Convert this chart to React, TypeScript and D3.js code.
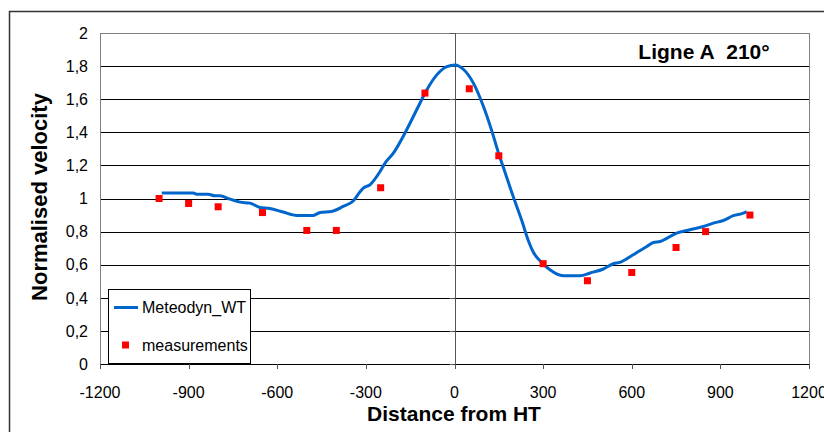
import React from "react";
import * as d3 from "d3";

// Meteodyn_WT model profile (distance, normalised velocity)
const modelX = [-991, -884, -873, -834, -811, -794, -760, -726, -692, -659, -625, -580, -534, -478, -455, -416, -377, -343, -320, -309, -286, -252, -235, -207, -162, -128, -94, -60, -26, 2, 30, 64, 98, 126, 148, 165, 199, 228, 250, 267, 295, 323, 368, 425, 459, 504, 538, 560, 605, 651, 673, 696, 752, 797, 842, 876, 910, 944, 978, 989];
const modelY = [1.033, 1.033, 1.026, 1.026, 1.016, 1.016, 0.996, 0.978, 0.972, 0.946, 0.94, 0.918, 0.898, 0.898, 0.916, 0.922, 0.952, 0.985, 1.04, 1.063, 1.083, 1.163, 1.214, 1.274, 1.415, 1.536, 1.656, 1.747, 1.797, 1.807, 1.781, 1.697, 1.556, 1.41, 1.28, 1.19, 1.01, 0.865, 0.745, 0.675, 0.614, 0.569, 0.533, 0.533, 0.55, 0.574, 0.606, 0.614, 0.66, 0.71, 0.734, 0.74, 0.791, 0.811, 0.831, 0.851, 0.867, 0.896, 0.912, 0.921];

// measurements
const measX = [-1000, -900, -800, -650, -500, -400, -250, -100, 50, 150, 300, 450, 600, 750, 850, 1000];
const measY = [1.0, 0.97, 0.95, 0.915, 0.807, 0.807, 1.065, 1.637, 1.663, 1.258, 0.606, 0.503, 0.553, 0.704, 0.8, 0.9];

const xTicks = [-1200, -900, -600, -300, 0, 300, 600, 900, 1200];
const yTicks = [0, 0.2, 0.4, 0.6, 0.8, 1, 1.2, 1.4, 1.6, 1.8, 2];

const W = 824, H = 432;
const plot = { left: 100, right: 809, top: 33, bottom: 364 };
const font = "'Liberation Sans', Arial, sans-serif";

const App = () => {
  const x = d3.scaleLinear().domain([-1200, 1200]).range([plot.left, plot.right]);
  const y = d3.scaleLinear().domain([0, 2]).range([plot.bottom, plot.top]);
  const fmt = (v: number) => String(Math.round(v * 10) / 10).replace(".", ",");

  const line = d3.line<number>()
    .x((d, i) => x(modelX[i]))
    .y((d) => y(d))
    .curve(d3.curveMonotoneX);

  return (
    <svg width={W} height={H} style={{ position: "fixed", left: 0, top: 0 }} fontFamily={font}>
      <rect x={0} y={0} width={W} height={H} fill="#fff" />
      <rect x={9.5} y={11.5} width={W + 20} height={H + 20} fill="none" stroke="#333" strokeWidth={1.5} />

      {/* grid lines */}
      {yTicks.slice(1, -1).map((t) => (
        <line key={t} x1={plot.left} x2={plot.right} y1={Math.round(y(t)) + 0.5} y2={Math.round(y(t)) + 0.5} stroke="#000" strokeWidth={1} />
      ))}
      <rect x={plot.left + 0.5} y={plot.top + 0.5} width={plot.right - plot.left} height={plot.bottom - plot.top} fill="none" stroke="#808080" strokeWidth={1} />
      <line x1={plot.left} x2={plot.right} y1={plot.bottom + 0.5} y2={plot.bottom + 0.5} stroke="#000" />

      {/* y axis at x = 0 */}
      <line x1={Math.round(x(0)) + 0.5} x2={Math.round(x(0)) + 0.5} y1={plot.top} y2={plot.bottom} stroke="#555" strokeWidth={1} />
      {yTicks.map((t) => (
        <line key={t} x1={x(0) - 5} x2={x(0)} y1={Math.round(y(t)) + 0.5} y2={Math.round(y(t)) + 0.5} stroke="#555" />
      ))}
      {xTicks.map((t) => (
        <line key={t} x1={Math.round(x(t)) + 0.5} x2={Math.round(x(t)) + 0.5} y1={plot.bottom} y2={plot.bottom + 5} stroke="#555" />
      ))}

      {/* tick labels */}
      {yTicks.map((t) => (
        <text key={t} x={88} y={y(t)} dy="0.36em" textAnchor="end" fontSize={16} fill="#000">{fmt(t)}</text>
      ))}
      {xTicks.map((t) => (
        <text key={t} x={x(t)} y={398} textAnchor="middle" fontSize={16} fill="#000">{t}</text>
      ))}

      {/* axis titles */}
      <text x={454} y={421} textAnchor="middle" fontSize={21} fontWeight="bold">Distance from HT</text>
      <text transform={`translate(47,197) rotate(-90)`} textAnchor="middle" fontSize={22} fontWeight="bold">Normalised velocity</text>
      <text x={704} y={59} textAnchor="middle" fontSize={21} fontWeight="bold">Ligne A{"\u00a0\u00a0"}210°</text>

      {/* series */}
      <path d={line(modelY) || ""} fill="none" stroke="#0066CC" strokeWidth={3} strokeLinejoin="round" />
      {measX.map((mx, i) => (
        <rect key={i} x={x(mx) - 3.5} y={y(measY[i]) - 3.5} width={7} height={7} fill="#FF0000" />
      ))}

      {/* legend */}
      <rect x={108.5} y={289.5} width={142} height={74} fill="#fff" stroke="#000" strokeWidth={1} />
      <line x1={114} x2={138} y1={307.5} y2={307.5} stroke="#0066CC" strokeWidth={3} />
      <text x={142} y={313} fontSize={16}>Meteodyn_WT</text>
      <rect x={122} y={341.5} width={7} height={7} fill="#FF0000" />
      <text x={142} y={351} fontSize={16}>measurements</text>
    </svg>
  );
};

export default App;
